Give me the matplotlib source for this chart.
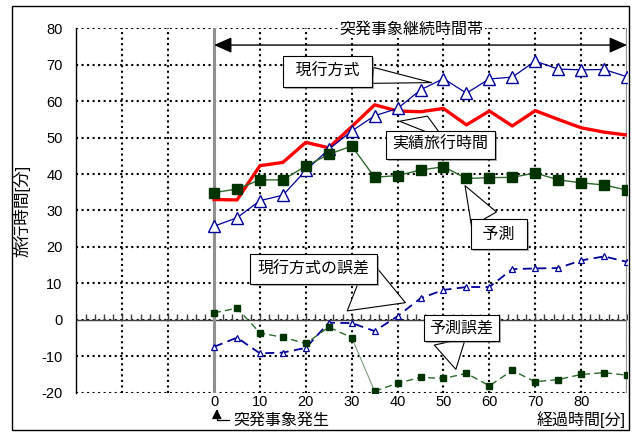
import matplotlib.pyplot as plt
import matplotlib.patheffects as pe
from matplotlib.patches import Rectangle

plt.rcParams['font.family'] = ['Liberation Sans', 'Noto Sans CJK JP']
plt.rcParams['axes.unicode_minus'] = False

# 経過時間 [分]
t = [0, 5, 10, 15, 20, 25, 30, 35, 40, 45, 50, 55, 60, 65, 70, 75, 80, 85, 90]

# 実績旅行時間
actual = [33.0, 32.9, 42.3, 43.2, 48.7, 47.2, 53.0, 59.0, 57.3, 57.1,
          58.0, 53.5, 57.3, 53.2, 57.4, 55.0, 52.7, 51.5, 50.7]
# 現行方式
current = [25.7, 28.0, 32.7, 34.2, 41.0, 46.8, 51.8, 56.0, 58.0, 63.1,
           66.2, 62.2, 66.1, 66.6, 71.0, 68.8, 68.6, 68.7, 66.7]
# 予測
pred = [34.9, 35.9, 38.4, 38.4, 42.2, 45.4, 47.7, 39.1, 39.6, 41.1,
        42.0, 38.8, 39.0, 39.1, 40.3, 38.4, 37.6, 37.0, 35.6]
# 現行方式の誤差
current_err = [-7.4, -4.9, -9.2, -9.0, -7.7, -0.8, -0.9, -3.1, 1.0, 5.9,
               8.2, 9.0, 9.0, 13.9, 14.1, 14.2, 16.3, 17.4, 15.9]
# 予測誤差
pred_err = [1.9, 3.2, -3.6, -4.8, -6.5, -2.0, -4.9, -19.6, -17.4, -15.8,
            -16.1, -14.7, -18.1, -13.9, -17.0, -16.4, -15.0, -14.5, -15.2]

xticks = list(range(-30, 91, 10))
xlabels = [str(v) if 0 <= v <= 80 else '' for v in xticks]
yticks = list(range(-20, 81, 10))

navy = '#000099'
dkgreen = '#003300'

fig = plt.figure(figsize=(6.32, 4.32), dpi=100)
ax = fig.add_axes([0.1209, 0.0910, 0.8712, 0.8435])
ax.set_xlim(-30, 90)
ax.set_ylim(-20, 80)

# 外枠
fig.patches.append(Rectangle((12 / 632, 2 / 432), 617 / 632, 424 / 432,
                             transform=fig.transFigure, fill=False,
                             ec='black', lw=1.0))

ax.set_xticks(xticks, xlabels)
ax.set_yticks(yticks, [str(v) for v in yticks])
ax.tick_params(length=0, labelsize=10.5)
ax.tick_params(axis='y', pad=10)
ax.tick_params(axis='x', pad=2)
ax.grid(True, color='black', linestyle=':', linewidth=1.5)
for side in ['top', 'right', 'bottom']:
    ax.spines[side].set_visible(False)
ax.spines['left'].set_linewidth(1.0)

# ゼロ線と目盛り
ax.axhline(0, color='#404040', lw=1.0, zorder=2)
zero_ticks = list(range(-30, 91, 2))
ax.plot(zero_ticks, [0] * len(zero_ticks), ls='none', marker=2,
        ms=4, mew=1.0, color='#404040', zorder=2)

# 突発事象の開始・終了
ax.axvline(0, color='#909090', lw=2.2, zorder=2)
ax.axvline(90, color='#909090', lw=2.2, zorder=2)

ax.plot(t, actual, color='red', lw=2.4, zorder=4)
ax.plot(t, current, color=navy, lw=0.9, marker='^', ms=8, mfc='white',
        mec=navy, mew=1.0, zorder=5)
ax.plot(t, pred, color='#2d6a2d', lw=1.0, marker='s', ms=7.5, mfc=dkgreen,
        mec=dkgreen, zorder=5)
ax.plot(t, current_err, color=navy, lw=1.3, ls=(0, (5, 3)), marker='^',
        ms=5, mfc='white', mec=navy, mew=0.9, zorder=5)
ax.plot(t[:7], pred_err[:7], color='#2d6a2d', lw=1.0, ls=(0, (5, 3)),
        marker='s', ms=4.5, mfc=dkgreen, mec=dkgreen, zorder=5)
ax.plot(t[6:8], pred_err[6:8], color='#7a9a7a', lw=0.8, zorder=4)
ax.plot(t[7:], pred_err[7:], color='#2d6a2d', lw=1.0, ls=(0, (5, 3)),
        marker='s', ms=4.5, mfc=dkgreen, mec=dkgreen, zorder=5)

ax.set_ylabel('旅行時間[分]', fontsize=12, labelpad=8)

# 突発事象継続時間帯
ax.annotate('', xy=(0, 75.4), xytext=(90, 75.4),
            arrowprops=dict(arrowstyle='<|-|>,head_length=0.9,head_width=0.4',
                            color='black', lw=1.0, mutation_scale=12,
                            shrinkA=0, shrinkB=0), zorder=6)
ax.text(43, 79.8, '突発事象継続時間帯', fontsize=11.5, ha='center', va='center',
        bbox=dict(boxstyle='square,pad=0.1', fc='white', ec='none'), zorder=6)

# 吹き出し: ラベル, 枠の中心, 指す点, 付け根, 付け根の幅, 余白
callouts = [
    (' 現行方式 ', (24.8, 68.1), (47.4, 65.1), (1.0, 0.32), 1.0, 0.5),
    ('実績旅行時間', (49.3, 48.1), (46.5, 55.9), (0.28, 1.0), 3.0, 0.4),
    (' 予測 ', (62.1, 23.5), (54.7, 36.8), (0.24, 1.0), 1.8, 0.45),
    ('現行方式の誤差', (21.7, 14.0), (41.7, 4.7), (0.72, 0.0), 3.6, 0.45),
    ('予測誤差', (53.9, -2.3), (52.7, -13.6), (0.3, 0.0), 2.0, 0.35),
]
shadow = [pe.SimplePatchShadow(offset=(1.5, -1.5), shadow_rgbFace='#808080',
                               alpha=0.6), pe.Normal()]
for label, box_xy, target, rel, tw, pad in callouts:
    ann = ax.annotate(label, xy=target, xytext=box_xy, fontsize=11.5,
                      ha='center', va='center', zorder=7,
                      bbox=dict(boxstyle=f'square,pad={pad}', fc='white',
                                ec='black', lw=0.8),
                      arrowprops=dict(arrowstyle=f'wedge,tail_width={tw}',
                                      fc='white', ec='black', lw=0.8,
                                      relpos=rel, shrinkA=0, shrinkB=0))
    ann.get_bbox_patch().set_path_effects(shadow)

# 突発事象発生の矢印
ax.annotate('突発事象発生', xy=(0.6, -0.045), xycoords=ax.get_xaxis_transform(),
            xytext=(4.1, -0.075), textcoords=ax.get_xaxis_transform(),
            fontsize=11.5, ha='left', va='center', annotation_clip=False,
            arrowprops=dict(arrowstyle='-|>,head_length=0.5,head_width=0.25',
                            color='black', lw=0.9, relpos=(0, 0.5),
                            connectionstyle='angle,angleA=180,angleB=90,rad=0',
                            shrinkA=1, shrinkB=0))

fig.text(626 / 632, 1 - 420 / 432, '経過時間[分]', fontsize=11.5,
         ha='right', va='center')

fig.savefig('out.png', dpi=100)
